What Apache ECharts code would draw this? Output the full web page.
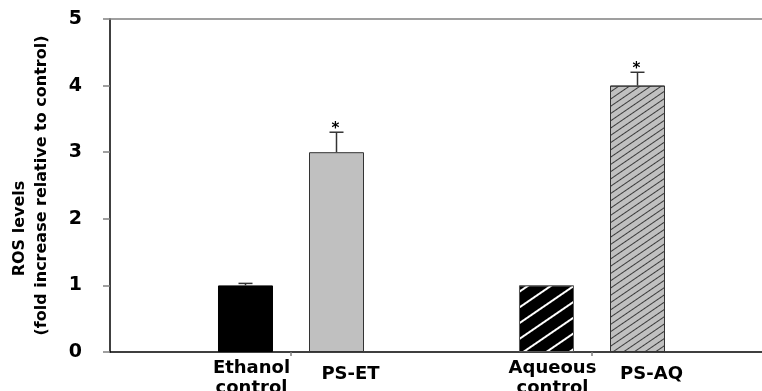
<!DOCTYPE html>
<html>
<head>
<meta charset="utf-8">
<script src="https://cdn.jsdelivr.net/npm/echarts@6/dist/echarts.min.js"></script>
<style>
html,body{margin:0;padding:0;background:#fff;}
#chart{width:762px;height:391px;}
</style>
</head>
<body>
<div id="chart"></div>
<script>
// ---- data ----
const groups = ['Ethanol', 'Aqueous'];
const controlLabels = ['Ethanol\ncontrol', 'Aqueous\ncontrol'];
const treatLabels = ['PS-ET', 'PS-AQ'];
const controlValues = [1.0, 1.0];
const controlErrors = [0.03, 0];
const treatValues = [3.0, 4.0];
const treatErrors = [0.3, 0.2];
const treatSig = ['*', '*'];
const yMin = 0, yMax = 5, yStep = 1;
const yName1 = 'ROS levels';
const yName2 = '(fold increase relative to control)';

// ---- styles ----
const FONT = 'DejaVu Sans';
const BAR_W = 55;
const GAP = 36;
const OFF = (BAR_W + GAP) / 2;

const hatchCtrl = { symbol: 'rect', symbolSize: 1, color: '#ffffff', dashArrayX: [1, 0], dashArrayY: [1.5, 11], rotation: -0.6 };
const hatchTreat = { symbol: 'rect', symbolSize: 1, color: '#3a3a3a', dashArrayX: [1, 0], dashArrayY: [1, 5], rotation: -0.6 };

const ctrlStyles = [
  { color: '#000000', borderColor: '#000000', borderWidth: 1 },
  { color: '#000000', borderColor: '#555555', borderWidth: 1, decal: hatchCtrl }
];
const treatStyles = [
  { color: '#c0c0c0', borderColor: '#333333', borderWidth: 1 },
  { color: '#c0c0c0', borderColor: '#333333', borderWidth: 1, decal: hatchTreat }
];

function errRender(offset, sigs) {
  return function (params, api) {
    const idx = api.value(0), v = api.value(1), e = api.value(2);
    const sig = sigs ? sigs[params.dataIndex] : '';
    const base = api.coord([idx, v]);
    const top = api.coord([idx, v + e]);
    const x = base[0] + offset;
    const children = [];
    if (e > 0) {
      children.push({ type: 'line', shape: { x1: x, y1: base[1], x2: x, y2: top[1] }, style: { stroke: '#333', lineWidth: 1.5 } });
      children.push({ type: 'line', shape: { x1: x - 7, y1: top[1], x2: x + 7, y2: top[1] }, style: { stroke: '#333', lineWidth: 1.5 } });
    }
    if (sig) {
      children.push({ type: 'text', x: x - 1, y: top[1] - 3, style: { text: sig, font: 'bold 15px "DejaVu Sans"', fill: '#000', align: 'center', verticalAlign: 'middle' } });
    }
    return { type: 'group', children: children };
  };
}

const chart = echarts.init(document.getElementById('chart'), null, { renderer: 'canvas' });
chart.setOption({
  animation: false,
  backgroundColor: '#ffffff',
  textStyle: { fontFamily: FONT },
  grid: [
    { left: 110, right: 0, top: 19, bottom: 39 },
    { left: 140.5, width: 602, top: 19, bottom: 39 }
  ],
  xAxis: [
    { gridIndex: 0, type: 'value', min: 0, max: 1, position: 'bottom',
      axisLine: { show: true, onZero: false, lineStyle: { color: '#000', width: 1.5 } },
      axisTick: { show: false }, axisLabel: { show: false }, splitLine: { show: false } },
    { gridIndex: 0, type: 'value', min: 0, max: 1, position: 'top',
      axisLine: { show: true, onZero: false, lineStyle: { color: '#808080', width: 1.5 } },
      axisTick: { show: false }, axisLabel: { show: false }, splitLine: { show: false } },
    { gridIndex: 1, type: 'category', data: groups,
      axisLine: { show: false },
      axisTick: { show: true, alignWithLabel: true, length: 4, lineStyle: { color: '#808080', width: 1.5 } },
      axisLabel: { show: false } }
  ],
  yAxis: [
    { gridIndex: 0, type: 'value', min: yMin, max: yMax, interval: yStep,
      axisLine: { show: true, onZero: false, lineStyle: { color: '#000', width: 1.5 } },
      axisTick: { show: true, length: 7, lineStyle: { color: '#808080', width: 1.5 } },
      axisLabel: { margin: 28, fontSize: 19, fontWeight: 'bold', color: '#000', fontFamily: FONT },
      splitLine: { show: false },
      name: '{a|' + yName1 + '}\n{b|' + yName2 + '}',
      nameLocation: 'middle', nameGap: 57, nameRotate: 90,
      nameTextStyle: {
        fontFamily: FONT, fontWeight: 'bold', fontSize: 16, color: '#000', lineHeight: 22,
        rich: {
          a: { fontFamily: FONT, fontWeight: 'bold', fontSize: 16, color: '#000', lineHeight: 22, padding: [0, 86, 0, 0] },
          b: { fontFamily: FONT, fontWeight: 'bold', fontSize: 16, color: '#000', lineHeight: 22 }
        }
      } },
    { gridIndex: 1, type: 'value', min: yMin, max: yMax, interval: yStep, show: false }
  ],
  series: [
    { type: 'bar', name: 'control', xAxisIndex: 2, yAxisIndex: 1,
      barWidth: BAR_W, barGap: (GAP / BAR_W * 100).toFixed(1) + '%',
      data: controlValues.map((v, i) => ({ value: v, itemStyle: ctrlStyles[i] })),
      label: { show: true, position: 'bottom', distance: 6, offset: [6, 0],
        formatter: p => controlLabels[p.dataIndex],
        fontFamily: FONT, fontWeight: 'bold', fontSize: 18, lineHeight: 20, color: '#000', align: 'center' } },
    { type: 'bar', name: 'treatment', xAxisIndex: 2, yAxisIndex: 1,
      barWidth: BAR_W,
      data: treatValues.map((v, i) => ({ value: v, itemStyle: treatStyles[i] })),
      label: { show: true, position: 'bottom', distance: 12, offset: [14, 0],
        formatter: p => treatLabels[p.dataIndex],
        fontFamily: FONT, fontWeight: 'bold', fontSize: 18, lineHeight: 20, color: '#000' } },
    { type: 'custom', xAxisIndex: 2, yAxisIndex: 1, renderItem: errRender(-OFF, null), z: 5,
      data: controlValues.map((v, i) => [i, v, controlErrors[i]]) },
    { type: 'custom', xAxisIndex: 2, yAxisIndex: 1, renderItem: errRender(OFF, treatSig), z: 5,
      data: treatValues.map((v, i) => [i, v, treatErrors[i]]) }
  ]
});
</script>
</body>
</html>
